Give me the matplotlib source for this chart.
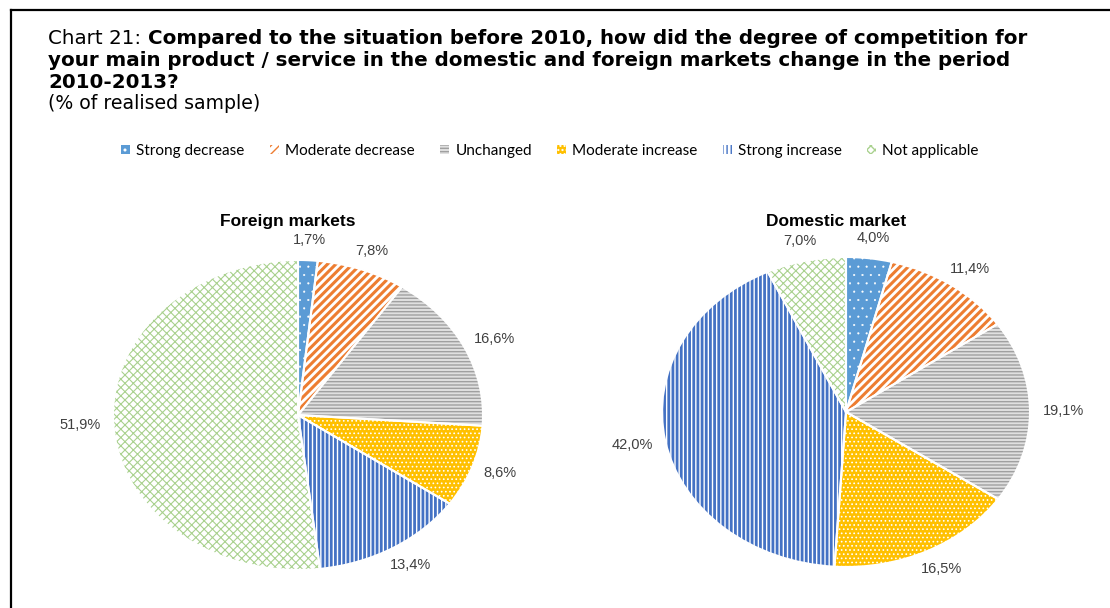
import matplotlib
matplotlib.use("Agg")
import numpy as np
import matplotlib.pyplot as plt
from matplotlib.patches import Patch
from matplotlib.lines import Line2D

categories = ["Strong decrease", "Moderate decrease", "Unchanged",
              "Moderate increase", "Strong increase", "Not applicable"]
foreign = [1.7, 7.8, 16.6, 8.6, 13.4, 51.9]
domestic = [4.0, 11.4, 19.1, 16.5, 42.0, 7.0]
pie_titles = ["Foreign markets", "Domestic market"]

# (facecolor, hatch, hatchcolor, hatch linewidth)
styles = [
    ("#5B9BD5", "..", "white", 0.3),
    ("white", "////", "#ED7D31", 2.2),
    ("#E0E0E0", "-----", "#A0A0A0", 1.0),
    ("#FFC000", "....", "white", 0.7),
    ("white", "||||", "#4472C4", 2.0),
    ("white", "xxxx", "#A9D18E", 0.8),
]

W, H = 1110, 608
fig = plt.figure(figsize=(W / 100, H / 100), dpi=100)
fig.patch.set_facecolor("white")

title_font = "DejaVu Sans"
label_font = "Liberation Sans"


def fx(px):
    return px / W


def fy(py):
    return 1 - py / H


# frame lines (top and left)
fig.add_artist(Line2D([fx(11), 1.0], [fy(10), fy(10)], color="black", lw=1.6,
                      transform=fig.transFigure))
fig.add_artist(Line2D([fx(11), fx(11)], [fy(10), 0.0], color="black", lw=1.6,
                      transform=fig.transFigure))

# Title
TS = 14.3
renderer = fig.canvas.get_renderer()
t0 = fig.text(fx(48), fy(44), "Chart 21: ", fontsize=TS, family=title_font,
              ha="left", va="baseline")
bb = t0.get_window_extent(renderer)
fig.text(bb.x1 / W, fy(44),
         "Compared to the situation before 2010, how did the degree of competition for",
         fontsize=TS, family=title_font, weight="bold", ha="left", va="baseline")
fig.text(fx(48), fy(66),
         "your main product / service in the domestic and foreign markets change in the period",
         fontsize=TS, family=title_font, weight="bold", ha="left", va="baseline")
fig.text(fx(48), fy(88), "2010-2013?", fontsize=TS, family=title_font,
         weight="bold", ha="left", va="baseline")
fig.text(fx(48), fy(109), "(% of realised sample)", fontsize=13.6, family=title_font,
         ha="left", va="baseline")

boxes = [(113, 260, 483, 570), (662, 257, 1030, 567)]
datasets = [foreign, domestic]
GAP = 13  # px gap between pie edge and label box

for (x0, y0, x1, y1), vals, ttl in zip(boxes, datasets, pie_titles):
    ax = fig.add_axes([fx(x0), fy(y1), (x1 - x0) / W, (y1 - y0) / H])
    rx = (x1 - x0) / 2
    ry = (y1 - y0) / 2
    wedges, texts = ax.pie(vals, startangle=90, counterclock=False,
                           labels=[f"{v:.1f}%".replace(".", ",") for v in vals],
                           labeldistance=1.15,
                           textprops=dict(fontsize=10.5, family=label_font,
                                          color="#404040"))
    for w, st in zip(wedges, styles):
        fc, hatch, hc, hlw = st
        w.set_facecolor(fc)
        w.set_hatch(hatch)
        w.set_edgecolor(hc)
        w.set_linewidth(0)
        try:
            w.set_hatch_linewidth(hlw)
        except AttributeError:
            pass
    # white borders on top
    ax.pie(vals, startangle=90, counterclock=False,
           wedgeprops=dict(facecolor="none", edgecolor="white", linewidth=1.5))
    ax.set_aspect("auto")
    ax.set_xlim(-1, 1)
    ax.set_ylim(-1, 1)
    ax.axis("off")
    for w, t in zip(wedges, texts):
        t.set_ha("center")
        t.set_va("center")
        ext = t.get_window_extent(renderer)
        mid = np.deg2rad((w.theta1 + w.theta2) / 2)
        cx_, cy_ = np.cos(mid), np.sin(mid)
        t.set_position((cx_ * (1 + (GAP + ext.width / 2) / rx),
                        cy_ * (1 + (GAP + ext.height / 2) / ry)))
    cx = (x0 + x1) / 2 - 10
    fig.text(fx(cx), fy(222), ttl, fontsize=12.5, family=label_font, weight="bold",
             ha="center", va="center")

# Legend
handles = []
for name, st in zip(categories, styles):
    fc, hatch, hc, hlw = st
    p = Patch(facecolor=fc, hatch=hatch, edgecolor=hc, linewidth=0, label=name)
    handles.append(p)
leg = fig.legend(handles=handles, loc="center", bbox_to_anchor=(fx(550), fy(151)),
                 ncol=6, frameon=False, prop=dict(family="Lato", size=11),
                 handlelength=0.6, handleheight=0.6, handletextpad=0.4,
                 columnspacing=1.65)

fig.savefig("out.png", dpi=100, facecolor="white")
